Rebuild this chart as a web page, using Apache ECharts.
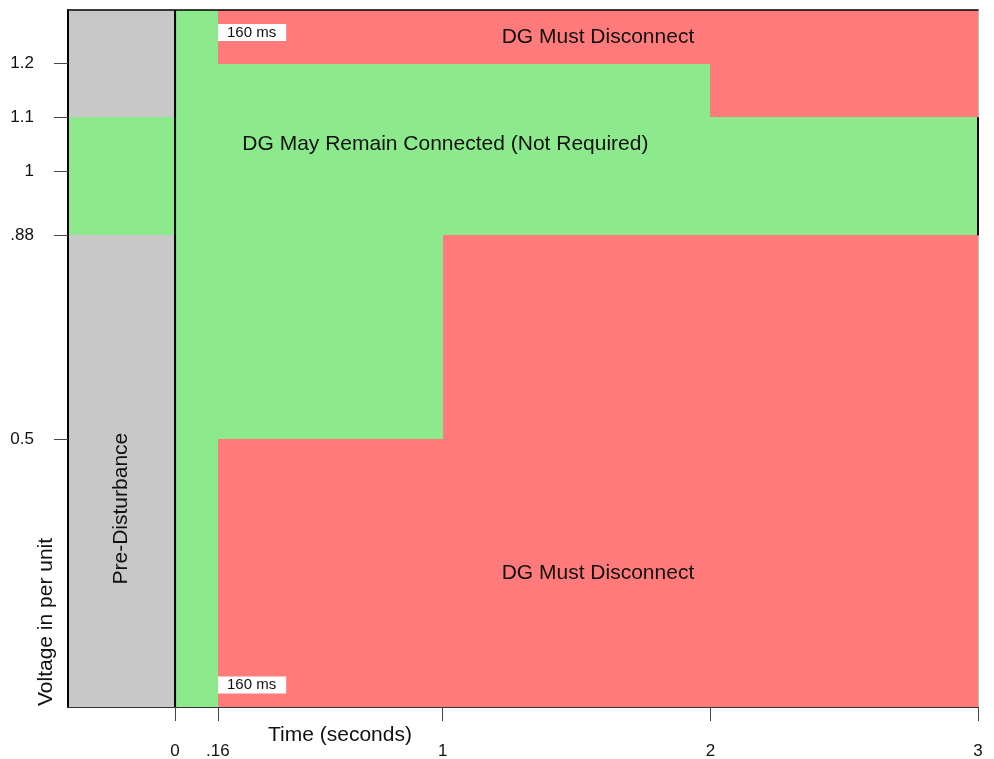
<!DOCTYPE html>
<html>
<head>
<meta charset="utf-8">
<title>DG ride-through zones</title>
<script src="https://cdn.jsdelivr.net/npm/echarts@6/dist/echarts.min.js"></script>
<style>
  html, body { margin: 0; padding: 0; background: #fff; }
  #chart { width: 994px; height: 759px; }
</style>
</head>
<body>
<div id="chart"></div>
<script>
// axis ranges and ticks
var xRange = [-0.4, 3];
var yRange = [0, 1.3];
var xTickValues = [0, 0.16, 1, 2, 3];
var xTickLabels = ['0', '.16', '1', '2', '3'];
var yTickValues = [0.5, 0.88, 1, 1.1, 1.2];
var yTickLabels = ['0.5', '.88', '1', '1.1', '1.2'];

// zones: [x0, y0, x1, y1] in seconds / per unit
var grayZones = [[-0.4, 0, 0, 0.88], [-0.4, 1.1, 0, 1.3]];
var greenZones = [
  [-0.4, 0.88, 0, 1.1],
  [0, 0, 0.16, 1.3],
  [0.16, 0.88, 2, 1.2],
  [2, 0.88, 3, 1.1],
  [0.16, 0.5, 1, 0.88]
];
var redZones = [
  [0.16, 1.2, 3, 1.3],
  [2, 1.1, 3, 1.2],
  [0.16, 0, 1, 0.5],
  [1, 0, 3, 0.88]
];
// black boundary lines [x0, y0, x1, y1]
var boundaryLines = [[0, 0, 0, 1.3], [3, 0.88, 3, 1.1]];

var FONT = '"Liberation Sans", Arial, sans-serif';
var GRAY = '#c8c8c8', GREEN = '#8cea8c', RED = '#ff7b7b';

// text notes placed in data coords
var notes = [
  { text: 'DG Must Disconnect', at: [1.58, 1.25], size: 21 },
  { text: 'DG May Remain Connected (Not Required)', at: [1.01, 1.05], size: 21 },
  { text: 'DG Must Disconnect', at: [1.58, 0.25], size: 21 },
  { text: 'Pre-Disturbance', at: [-0.2, 0.37], size: 21, rotate: true },
  { text: '160 ms', at: [0.16, 1.258], size: 15, box: true },
  { text: '160 ms', at: [0.16, 0.041], size: 15, box: true }
];

function tickLabel(values, labels) {
  return function (v) {
    for (var i = 0; i < values.length; i++) {
      if (Math.abs(values[i] - v) < 1e-6) return labels[i];
    }
    return '';
  };
}

function renderZone(params, api) {
  var p0 = api.coord([api.value(0), api.value(1)]);
  var p1 = api.coord([api.value(2), api.value(3)]);
  var x0 = Math.round(Math.min(p0[0], p1[0]));
  var x1 = Math.round(Math.max(p0[0], p1[0]));
  var y0 = Math.round(Math.min(p0[1], p1[1]));
  var y1 = Math.round(Math.max(p0[1], p1[1]));
  return {
    type: 'rect',
    shape: { x: x0, y: y0, width: x1 - x0, height: y1 - y0 },
    style: { fill: api.visual('color') }
  };
}

function renderLine(params, api) {
  var p0 = api.coord([api.value(0), api.value(1)]);
  var p1 = api.coord([api.value(2), api.value(3)]);
  return {
    type: 'line',
    shape: { x1: p0[0], y1: p0[1], x2: p1[0], y2: p1[1] },
    style: { stroke: '#000', lineWidth: 2 }
  };
}

function renderNote(params, api) {
  var n = notes[params.dataIndex];
  var p = api.coord(n.at);
  var style = {
    text: n.text,
    fill: '#111',
    font: n.size + 'px ' + FONT,
    align: n.box ? 'left' : 'center',
    verticalAlign: 'middle'
  };
  if (n.box) {
    style.backgroundColor = '#fff';
    style.padding = [1, 10, 1, 9];
  }
  return {
    type: 'text',
    x: n.box ? Math.round(p[0]) : p[0],
    y: p[1],
    rotation: n.rotate ? Math.PI / 2 : 0,
    style: style
  };
}

function zoneSeries(name, color, data) {
  return {
    name: name,
    type: 'custom',
    renderItem: renderZone,
    itemStyle: { color: color },
    encode: { x: [0, 2], y: [1, 3] },
    data: data,
    silent: true,
    z: 1
  };
}

var chart = echarts.init(document.getElementById('chart'));
chart.setOption({
  animation: false,
  textStyle: { fontFamily: FONT },
  grid: { left: 68, right: 16, top: 10, bottom: 52, outerBoundsMode: 'none' },
  xAxis: [
    {
      type: 'value',
      min: xRange[0],
      max: xRange[1],
      z: 10,
      splitLine: { show: false },
      axisLine: { onZero: false, lineStyle: { color: '#333', width: 1 } },
      axisTick: {
        customValues: xTickValues,
        length: 14,
        lineStyle: { color: '#444', width: 1 }
      },
      axisLabel: {
        customValues: xTickValues,
        formatter: tickLabel(xTickValues, xTickLabels),
        margin: 36,
        fontSize: 17,
        color: '#111',
        fontFamily: FONT
      }
    },
    {
      type: 'value',
      position: 'top',
      min: xRange[0],
      max: xRange[1],
      z: 10,
      splitLine: { show: false },
      axisLine: { onZero: false, lineStyle: { color: '#000', width: 1.5 } },
      axisTick: { show: false },
      axisLabel: { show: false }
    }
  ],
  yAxis: [
    {
      type: 'value',
      min: yRange[0],
      max: yRange[1],
      z: 10,
      splitLine: { show: false },
      axisLine: { show: true, onZero: false, lineStyle: { color: '#000', width: 2 } },
      axisTick: {
        show: true,
        customValues: yTickValues,
        length: 14,
        lineStyle: { color: '#444', width: 1 }
      },
      axisLabel: {
        customValues: yTickValues,
        formatter: tickLabel(yTickValues, yTickLabels),
        margin: 34,
        fontSize: 17,
        color: '#111',
        fontFamily: FONT
      }
    },
    {
      type: 'value',
      position: 'right',
      min: yRange[0],
      max: yRange[1],
      z: 10,
      splitLine: { show: false },
      axisLine: { show: true, onZero: false, lineStyle: { color: '#bbb', width: 1 } },
      axisTick: { show: false },
      axisLabel: { show: false }
    }
  ],
  graphic: [
    {
      type: 'text',
      x: 46,
      y: 622,
      rotation: Math.PI / 2,
      style: {
        text: 'Voltage in per unit',
        font: '21px ' + FONT,
        fill: '#111',
        align: 'center',
        verticalAlign: 'middle'
      }
    },
    {
      type: 'text',
      x: 340,
      y: 735,
      style: {
        text: 'Time (seconds)',
        font: '21px ' + FONT,
        fill: '#111',
        align: 'center',
        verticalAlign: 'middle'
      }
    }
  ],
  series: [
    zoneSeries('Pre-Disturbance', GRAY, grayZones),
    zoneSeries('May Remain Connected', GREEN, greenZones),
    zoneSeries('Must Disconnect', RED, redZones),
    {
      name: 'Boundaries',
      type: 'custom',
      renderItem: renderLine,
      encode: { x: [0, 2], y: [1, 3] },
      data: boundaryLines,
      silent: true,
      z: 11
    },
    {
      name: 'Notes',
      type: 'custom',
      renderItem: renderNote,
      encode: { x: 0, y: 1 },
      data: notes.map(function (n) { return n.at; }),
      silent: true,
      z: 12
    }
  ]
});
</script>
</body>
</html>
